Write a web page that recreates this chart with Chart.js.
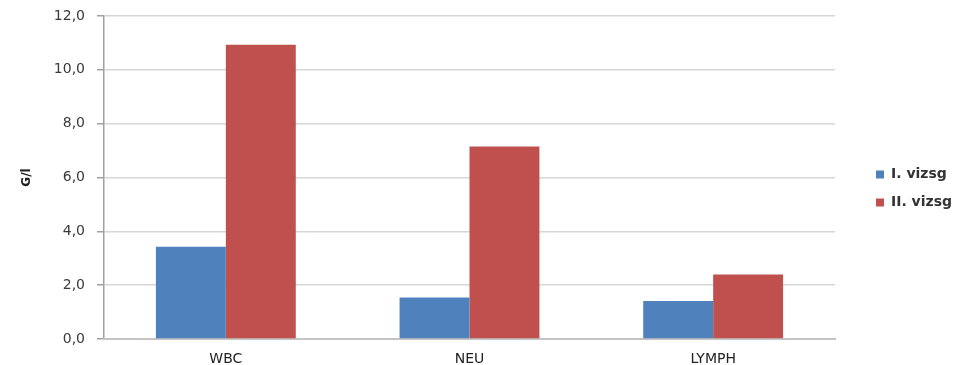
<!DOCTYPE html>
<html>
<head>
<meta charset="utf-8">
<script src="https://cdn.jsdelivr.net/npm/chart.js@4.4.1/dist/chart.umd.min.js"></script>
<style>
    html, body { margin: 0; padding: 0; background: #fff; }
    #wrap { width: 965px; height: 365px; }
</style>
</head>
<body>
<div id="wrap"><canvas id="grafica"></canvas></div>
<script>
// datos
const categorias = ["WBC", "NEU", "LYMPH"];
const vizsgI = [3.43, 1.54, 1.41];
const vizsgII = [10.93, 7.15, 2.40];
const etiquetasY = ["0,0", "2,0", "4,0", "6,0", "8,0", "10,0", "12,0"];

const fuente = "'DejaVu Sans', sans-serif";

var ctx = document.getElementById("grafica").getContext("2d");
var grafica = new Chart(ctx, {
    type: "bar",
    data: {
        labels: categorias,
        datasets: [
            {
                label: "I. vizsg",
                data: vizsgI,
                backgroundColor: "#4f81bd",
                categoryPercentage: 0.574,
                barPercentage: 1.0,
            },
            {
                label: "II. vizsg",
                data: vizsgII,
                backgroundColor: "#c0504d",
                categoryPercentage: 0.574,
                barPercentage: 1.0,
            },
        ],
    },
    options: {
        responsive: true,
        maintainAspectRatio: false,
        animation: false,
        layout: {
            padding: { top: 16, right: 0, bottom: 0, left: 20 }
        },
        scales: {
            y: {
                min: 0,
                max: 12,
                ticks: {
                    stepSize: 2,
                    padding: 12,
                    color: "#3a3a3a",
                    font: { family: fuente, size: 14 },
                    callback: function (value) {
                        return etiquetasY[value / 2];
                    }
                },
                grid: {
                    color: "#d6d6d6",
                    lineWidth: 1.5,
                    tickLength: 7,
                    tickColor: "#a0a0a0",
                },
                border: { color: "#a0a0a0", width: 1.5 },
                title: {
                    display: true,
                    text: "G/l",
                    color: "#222",
                    font: { family: fuente, size: 12, weight: "bold" },
                    padding: { top: 0, bottom: 4 }
                },
                afterFit: function (axis) {
                    axis.width = 84;
                    axis.paddingTop = 0;
                    axis.paddingBottom = 0;
                }
            },
            x: {
                ticks: {
                    color: "#222",
                    padding: 4,
                    font: { family: fuente, size: 14 }
                },
                grid: { display: false },
                border: { color: "#c4c4c4", width: 2 },
                afterFit: function (axis) { axis.height = 26; }
            }
        },
        plugins: {
            legend: {
                position: "right",
                labels: {
                    boxWidth: 8,
                    boxHeight: 8,
                    padding: 14,
                    color: "#333",
                    font: { family: fuente, size: 14, weight: "bold" }
                }
            },
            tooltip: { enabled: false }
        }
    },
    plugins: [{
        id: "anchoLeyenda",
        afterInit: function (chart) {
            const leyenda = chart.legend;
            const fit = leyenda.fit;
            leyenda.fit = function () {
                fit.bind(leyenda)();
                this.width = 130;
            };
        },
        afterLayout: function (chart) {
            // mover la leyenda como en el original
            chart.legend.left += 27;
            chart.legend.right += 27;
            chart.legend.top -= 2;
            chart.legend.bottom -= 2;
        }
    }]
});
</script>
</body>
</html>
